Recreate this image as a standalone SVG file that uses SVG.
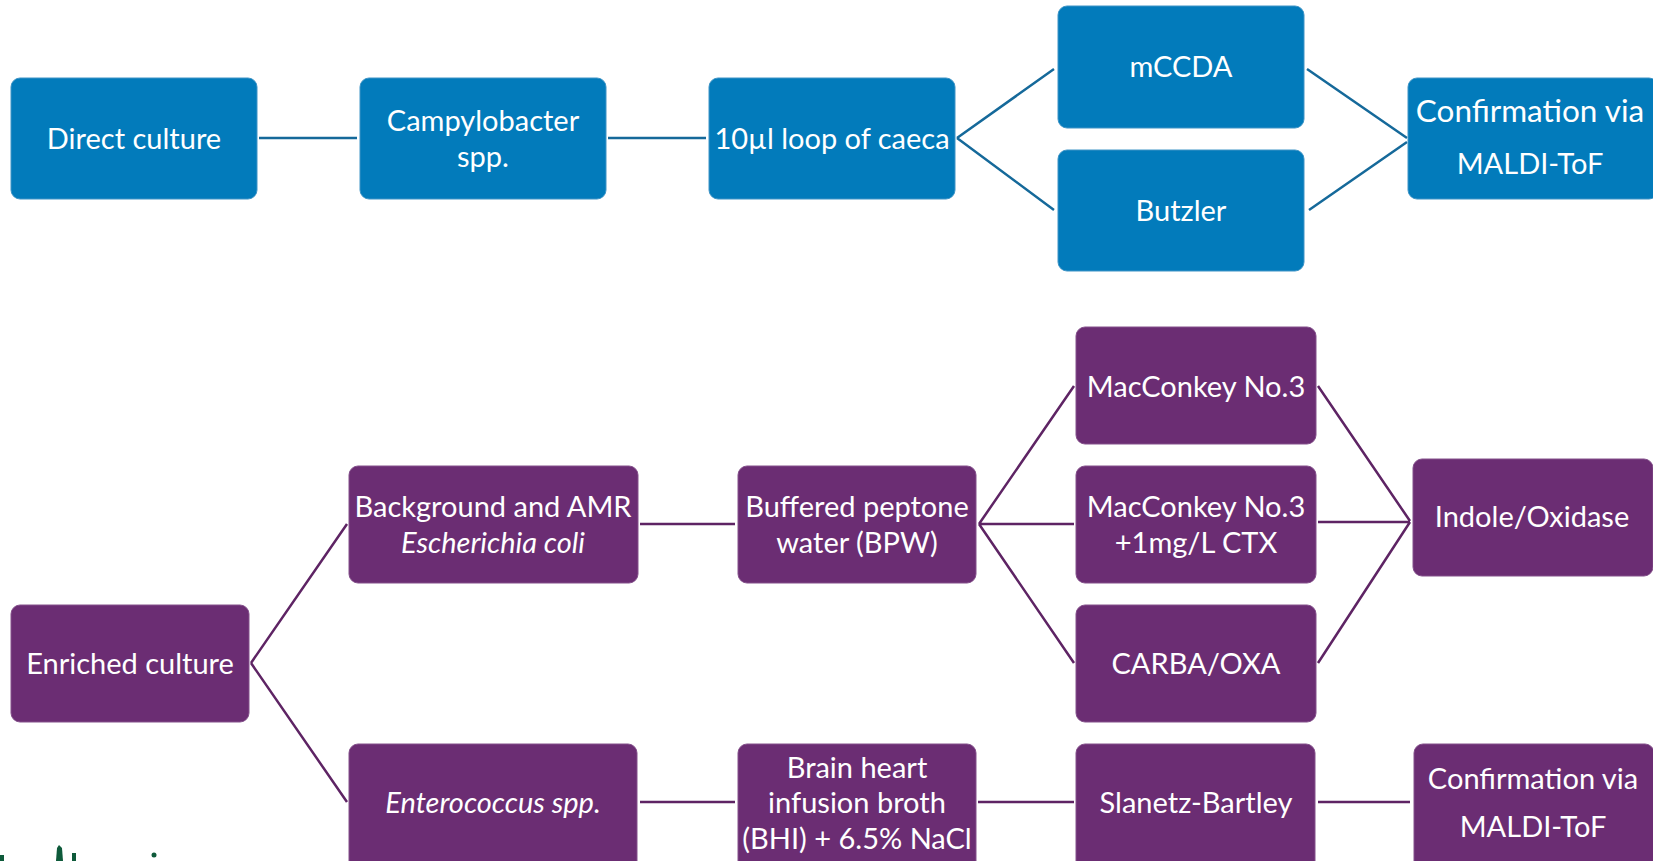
<svg xmlns="http://www.w3.org/2000/svg" width="1653" height="861" viewBox="0 0 1653 861">
<style>
.b{fill:#027BBB;stroke:#3E94C6;stroke-width:1}
.p{fill:#6B2D73;stroke:#84508B;stroke-width:1}
.t{font-family:Lato,"Open Sans","Liberation Sans",sans-serif;font-size:29px;fill:#ffffff;text-anchor:middle}
.i{font-style:italic}
.big{font-size:31.5px}
.lb{stroke:#15699A;stroke-width:2.5;fill:none}
.lp{stroke:#5E2464;stroke-width:2.5;fill:none}
</style>
<rect width="1653" height="861" fill="#ffffff"/>
<g id="connectors">
<path class="lb" d="M259 138H357M608 138H706M957 138L1054 69M957 138L1054 210M1307 69L1407 138M1309 210L1407 142"/>
<path class="lp" d="M251 663L347 524M251 663L347 802M640 524H735M979 524L1074 386M979 524H1074M979 524L1074 663M1318 386L1410 521M1318 522H1410M1318 663L1410 522M640 802H735M978 802H1074M1318 802H1410"/>
</g>
<g id="direct"><rect class="b" x="11" y="78" width="246" height="121" rx="9"/><text class="t" x="134" y="149">Direct culture</text></g>
<g id="campy"><rect class="b" x="360" y="78" width="246" height="121" rx="9"/><text class="t" x="483" y="131">Campylobacter</text><text class="t" x="483" y="167">spp.</text></g>
<g id="loop"><rect class="b" x="709" y="78" width="246" height="121" rx="9"/><text class="t" x="832" y="149">10µl loop of caeca</text></g>
<g id="mccda"><rect class="b" x="1058" y="6" width="246" height="122" rx="9"/><text class="t" x="1181" y="77">mCCDA</text></g>
<g id="butzler"><rect class="b" x="1058" y="150" width="246" height="121" rx="9"/><text class="t" x="1181" y="221">Butzler</text></g>
<g id="maldi1"><rect class="b" x="1408" y="78" width="250" height="121" rx="9"/><text class="t big" x="1530" y="122">Confirmation via</text><text class="t" x="1530" y="174">MALDI-ToF</text></g>
<g id="enriched"><rect class="p" x="11" y="605" width="238" height="117" rx="9"/><text class="t" x="130" y="674">Enriched culture</text></g>
<g id="ecoli"><rect class="p" x="349" y="466" width="289" height="117" rx="9"/><text class="t" x="493" y="517">Background and AMR</text><text class="t i" x="493" y="553">Escherichia coli</text></g>
<g id="bpw"><rect class="p" x="738" y="466" width="238" height="117" rx="9"/><text class="t" x="857" y="517">Buffered peptone</text><text class="t" x="857" y="553">water (BPW)</text></g>
<g id="mac3"><rect class="p" x="1076" y="327" width="240" height="117" rx="9"/><text class="t" x="1196" y="397">MacConkey No.3</text></g>
<g id="macctx"><rect class="p" x="1076" y="466" width="240" height="117" rx="9"/><text class="t" x="1196" y="517">MacConkey No.3</text><text class="t" x="1196" y="553">+1mg/L CTX</text></g>
<g id="carba"><rect class="p" x="1076" y="605" width="240" height="117" rx="9"/><text class="t" x="1196" y="674">CARBA/OXA</text></g>
<g id="indole"><rect class="p" x="1413" y="459" width="240" height="117" rx="9"/><text class="t" x="1532" y="527">Indole/Oxidase</text></g>
<g id="entero"><rect class="p" x="349" y="744" width="288" height="130" rx="9"/><text class="t i" x="493" y="813">Enterococcus spp.</text></g>
<g id="bhi"><rect class="p" x="738" y="744" width="238" height="130" rx="9"/><text class="t" x="857" y="778">Brain heart</text><text class="t" x="857" y="813">infusion broth</text><text class="t" x="857" y="849">(BHI) + 6.5% NaCl</text></g>
<g id="slanetz"><rect class="p" x="1076" y="744" width="239" height="130" rx="9"/><text class="t" x="1196" y="813">Slanetz-Bartley</text></g>
<g id="maldi2"><rect class="p" x="1414" y="744" width="240" height="130" rx="9"/><text class="t" x="1533" y="789">Confirmation via</text><text class="t" x="1533" y="837">MALDI-ToF</text></g>
<g id="logo" fill="#0E5A3A">
<path d="M56 861L57 848L59 845L62 848L63 861Z"/>
<rect x="72" y="853" width="4" height="8"/>
<circle cx="154" cy="855" r="2.5"/>
<rect x="0" y="855" width="4" height="6"/>
</g>
</svg>
